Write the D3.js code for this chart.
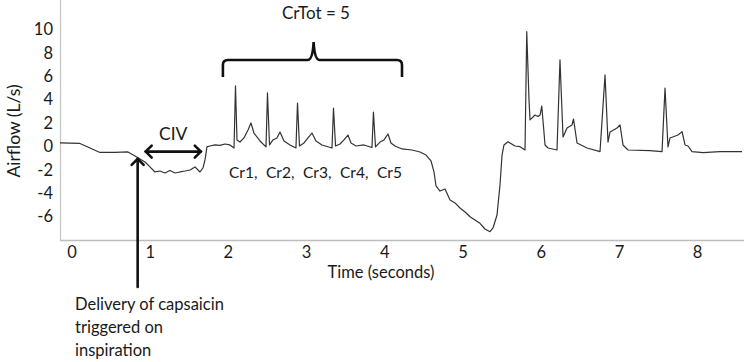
<!DOCTYPE html>
<html><head><meta charset="utf-8">
<script src="https://cdn.jsdelivr.net/npm/d3@7"></script>
<style>body{margin:0;background:#fff}svg{display:block}text{font-family:Lato,"Open Sans",sans-serif;fill:#1a1a1a}</style>
</head><body><svg id="c" width="744" height="362"></svg>
<script>
// Time (s) and airflow (L/s)
const times = [-0.153,0.102,0.230,0.358,0.550,0.716,0.806,0.870,0.934,0.997,1.061,1.125,1.189,1.253,1.317,1.381,1.445,1.509,1.573,1.637,1.675,1.701,1.726,1.765,1.829,1.893,1.957,2.020,2.072,2.091,2.110,2.148,2.199,2.251,2.289,2.327,2.404,2.481,2.500,2.526,2.570,2.621,2.660,2.711,2.788,2.864,2.884,2.909,2.967,3.018,3.069,3.120,3.197,3.325,3.344,3.370,3.427,3.478,3.529,3.568,3.632,3.734,3.836,3.855,3.881,3.939,3.990,4.041,4.079,4.130,4.220,4.348,4.450,4.527,4.591,4.629,4.655,4.706,4.770,4.834,4.898,4.962,5.026,5.090,5.153,5.217,5.281,5.345,5.384,5.435,5.473,5.499,5.524,5.575,5.665,5.729,5.793,5.815,5.844,5.857,5.921,5.959,5.985,6.007,6.049,6.087,6.202,6.240,6.279,6.330,6.394,6.413,6.458,6.586,6.752,6.816,6.854,6.880,6.969,7.008,7.046,7.110,7.391,7.545,7.583,7.621,7.647,7.749,7.801,7.839,7.877,7.928,8.069,8.286,8.568];
const airflow = [0.30,0.26,-0.13,-0.51,-0.51,-0.47,-0.81,-1.07,-1.33,-1.75,-2.18,-2.10,-2.27,-2.05,-2.27,-2.18,-2.10,-2.01,-1.75,-2.18,-1.84,-1.15,-0.04,0.04,0.13,0.09,0.21,0.13,-0.13,5.18,0.56,0.38,0.73,1.41,2.01,1.15,0.47,-0.04,4.58,0.13,0.56,0.73,1.24,0.47,0.13,-0.13,3.72,0.04,0.30,0.73,1.15,0.47,0.13,-0.13,3.29,0.04,0.21,0.56,0.98,0.30,0.04,0.13,-0.09,2.95,-0.04,0.38,0.56,1.07,0.30,0.04,-0.21,-0.30,-0.47,-0.73,-1.24,-2.18,-3.38,-3.81,-3.64,-4.58,-4.83,-5.26,-5.60,-6.01,-6.29,-6.57,-7.06,-7.29,-6.97,-5.86,-3.29,-0.73,0.13,0.41,0.04,-0.02,-0.30,9.82,3.98,2.27,2.69,2.57,2.69,3.46,0.13,-0.13,-0.30,7.40,0.81,1.58,1.84,2.35,0.30,-0.13,-0.44,6.12,0.38,1.24,1.58,1.84,0.13,-0.30,-0.36,-0.44,5.00,-0.04,0.73,0.98,1.27,0.13,0.04,-0.44,-0.53,-0.44,-0.44];
const xTicks = [0,1,2,3,4,5,6,7,8];
const yTicks = [-6,-4,-2,0,2,4,6,8,10];
const coughLabels = ["Cr1,","Cr2,","Cr3,","Cr4,","Cr5"];
const crTotLabel = "CrTot = 5";
const civLabel = "CIV";
const deliveryLines = ["Delivery of capsaicin","triggered on","inspiration"];

const svg = d3.select("#c");
const x = d3.scaleLinear().domain([-0.153, 8.593]).range([60, 744]);
const y = d3.scaleLinear().domain([-8, 12.53]).range([240, 0]);

// axes lines
svg.append("line").attr("x1",60.5).attr("x2",60.5).attr("y1",0).attr("y2",240).attr("stroke","#c4c4c4").attr("stroke-width",1.2);
svg.append("line").attr("x1",60).attr("x2",744).attr("y1",240.5).attr("y2",240.5).attr("stroke","#bdbdbd").attr("stroke-width",1.4);

svg.append("g").selectAll("text").data(yTicks).join("text")
  .attr("x",53).attr("y",d=>y(d)).attr("dy","0.35em").attr("text-anchor","end")
  .attr("font-size",16.5).text(d=>d);
svg.append("g").selectAll("text").data(xTicks).join("text")
  .attr("x",d=>x(d)).attr("y",252).attr("dy","0.35em").attr("text-anchor","middle")
  .attr("font-size",16.5).text(d=>d);

svg.append("text").attr("transform","translate(20,131) rotate(-90)").attr("text-anchor","middle")
  .attr("font-size",17.5).text("Airflow (L/s)");
svg.append("text").attr("x",381).attr("y",272).attr("dy","0.35em").attr("text-anchor","middle")
  .attr("font-size",16.5).text("Time (seconds)");

// trace
const pts = times.map((t,i)=>[t, airflow[i]]);
svg.append("path").datum(pts)
  .attr("d", d3.line().x(d=>x(d[0])).y(d=>y(d[1])))
  .attr("fill","none").attr("stroke","#333").attr("stroke-width",1.2).attr("stroke-linejoin","round");

// CIV double arrow
const civY = y(-0.44), cx1 = x(0.93), cx2 = x(1.66);
const arr = svg.append("g").attr("stroke","#111").attr("stroke-width",2.6).attr("fill","none").attr("stroke-linecap","round");
arr.append("line").attr("x1",cx1+1).attr("x2",cx2-1).attr("y1",civY).attr("y2",civY);
arr.append("path").attr("d",`M${cx1+7},${civY-6}L${cx1+1},${civY}L${cx1+7},${civY+6}`);
arr.append("path").attr("d",`M${cx2-7},${civY-6}L${cx2-1},${civY}L${cx2-7},${civY+6}`);
svg.append("text").attr("x",(cx1+cx2)/2).attr("y",y(1.05)).attr("dy","0.35em").attr("text-anchor","middle")
  .attr("font-size",17.5).text(civLabel);

// vertical delivery arrow
const vx = x(0.84), vTop = y(-0.98);
arr.append("line").attr("x1",vx).attr("x2",vx).attr("y1",vTop+1).attr("y2",287);
arr.append("path").attr("d",`M${vx-6},${vTop+7}L${vx},${vTop+1}L${vx+6},${vTop+7}`);
svg.append("g").selectAll("text").data(deliveryLines).join("text")
  .attr("x",75).attr("y",(d,i)=>304+i*23).attr("dy","0.35em").attr("font-size",16.5).text(d=>d);

// bracket
const bl = x(1.93), br = x(4.22), bm = x(3.09);
const bTop = y(7.40), bBot = y(5.95), bCusp = y(8.94);
svg.append("path").attr("fill","none").attr("stroke","#111").attr("stroke-width",2.6)
  .attr("d",`M${bl},${bBot}L${bl},${bTop+5}Q${bl},${bTop} ${bl+5},${bTop}L${bm-6},${bTop}Q${bm-1},${bTop} ${bm},${bCusp}Q${bm+1},${bTop} ${bm+6},${bTop}L${br-5},${bTop}Q${br},${bTop} ${br},${bTop+5}L${br},${bBot}`);
svg.append("text").attr("x",316).attr("y",13).attr("dy","0.35em").attr("text-anchor","middle")
  .attr("font-size",17).text(crTotLabel);

// cough labels
svg.append("g").selectAll("text").data(coughLabels).join("text")
  .attr("x",(d,i)=>229+i*37).attr("y",173).attr("dy","0.35em").attr("font-size",15.5).text(d=>d);
</script></body></html>
